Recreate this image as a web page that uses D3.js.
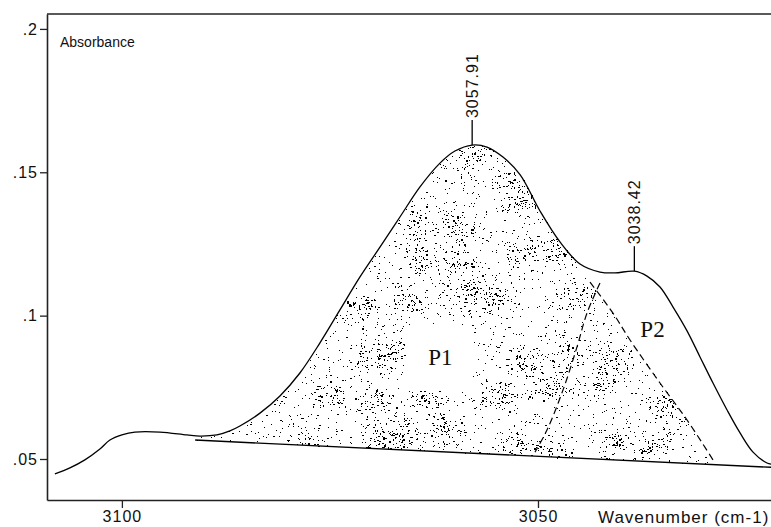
<!DOCTYPE html>
<html>
<head>
<meta charset="utf-8">
<script src="https://cdn.jsdelivr.net/npm/d3@7/dist/d3.min.js"></script>
<style>
body { margin: 0; background: #fff; }
svg { display: block; }
text { font-family: "Liberation Sans", Arial, sans-serif; fill: #111; }
</style>
</head>
<body>
<svg width="771" height="527"></svg>
<script>
// spectrum
var wavenumbers = [3108.05, 3106.25, 3104.45, 3102.64, 3101.44, 3100.00, 3098.44, 3095.43, 3092.19,
    3090.63, 3088.58, 3087.02, 3085.82, 3083.41, 3081.01, 3078.61, 3076.20, 3073.80, 3071.39,
    3068.99, 3066.59, 3064.18, 3061.78, 3059.98, 3057.91, 3056.13, 3054.21, 3052.16, 3049.76,
    3047.36, 3044.95, 3042.55, 3040.75, 3038.42, 3036.90, 3035.34, 3033.77, 3032.09, 3030.53,
    3028.97, 3027.28, 3025.72, 3024.16, 3022.48, 3021.90];
var absorbance = [0.0448, 0.0469, 0.0497, 0.0535, 0.0566, 0.0584, 0.0594, 0.0594, 0.0584,
    0.0580, 0.0584, 0.0598, 0.0615, 0.0660, 0.0720, 0.0800, 0.0905, 0.1020, 0.1135,
    0.1239, 0.1344, 0.1449, 0.1532, 0.1574, 0.1595, 0.1588, 0.1553, 0.1492, 0.1365,
    0.1257, 0.1180, 0.1152, 0.1149, 0.1155, 0.1138, 0.1100, 0.1030, 0.0947, 0.0856,
    0.0765, 0.0671, 0.0591, 0.0524, 0.0486, 0.0482];

// straight baseline under the bands
var baseWn = [3091.2, 3021.9];
var baseAbs = [0.0566, 0.0471];

// dashed flank of band P1 (right side)
var p1Wn = [3042.55, 3044.11, 3045.31, 3046.99, 3048.92, 3050.36];
var p1Abs = [0.1114, 0.1009, 0.0891, 0.0741, 0.0601, 0.0524];

// dashed flank of band P2 (left side)
var p2Wn = [3043.75, 3040.99, 3038.94, 3035.34, 3032.09, 3028.97];
var p2Abs = [0.1117, 0.1009, 0.0915, 0.0765, 0.0636, 0.0497];

var peakWn = [3057.91, 3038.42];
var peakAbs = [0.1595, 0.1155];
var peakLabels = ["3057.91", "3038.42"];

var areaLabels = ["P1", "P2"];
var areaWn = [3063.2, 3037.7];
var areaAbs = [0.0828, 0.0926];

var xTicks = [3100, 3050];
var yTicks = [0.05, 0.1, 0.15, 0.2];
var yTickLabels = [".05", ".1", ".15", ".2"];

var svg = d3.select("svg");
var plotL = 47, plotR = 771, plotT = 14, plotB = 500;

var x = d3.scaleLinear().domain([3109.0, 3022.0]).range([plotL, plotR]);
var y = d3.scaleLinear().domain([0.0357, 0.2052]).range([plotB, plotT]);

var spectrum = wavenumbers.map(function(d, i) { return [d, absorbance[i]]; });
function px(d) { return x(d[0]); }
function py(d) { return y(d[1]); }

function baseAt(wn) {
    var t = (wn - baseWn[0]) / (baseWn[1] - baseWn[0]);
    return baseAbs[0] + t * (baseAbs[1] - baseAbs[0]);
}

// stippled area: under spectrum, left of the P2 flank
var poly = spectrum.filter(function(d) { return d[0] <= baseWn[0] && d[0] >= p2Wn[0]; });
p2Wn.forEach(function(w, i) { poly.push([w, p2Abs[i]]); });
poly.push([p2Wn[p2Wn.length - 1], baseAt(p2Wn[p2Wn.length - 1])]);
poly.push([baseWn[0], baseAbs[0]]);
var polyPx = poly.map(function(d) { return [x(d[0]), y(d[1])]; });

// blank patch behind the P1 label
var lx = x(areaWn[0]), ly = y(areaAbs[0]);
function inside(p) {
    if (p[0] > lx - 24 && p[0] < lx + 44 && p[1] > ly - 40 && p[1] < ly + 26) return false;
    return d3.polygonContains(polyPx, p);
}

// seeded texture so every run looks the same
var seed = 9871;
function rnd() {
    seed = (seed * 16807) % 2147483647;
    return seed / 2147483647;
}
function gauss() { return (rnd() + rnd() + rnd() - 1.5) * 2; }

var dots = [];
var bx0 = d3.min(polyPx, function(p) { return p[0]; }), bx1 = d3.max(polyPx, function(p) { return p[0]; });
var by0 = d3.min(polyPx, function(p) { return p[1]; }), by1 = d3.max(polyPx, function(p) { return p[1]; });
for (var a = 0; a < 3300; a++) {
    var qx = bx0 + rnd() * (bx1 - bx0), qy = by0 + rnd() * (by1 - by0);
    if (inside([qx, qy])) dots.push([qx, qy, rnd() < 0.12 ? 2 : 1, 1]);
}
for (var cxg = bx0 + 15; cxg < bx1; cxg += 50) {
    for (var cyg = by0 + 20; cyg < by1; cyg += 46) {
        var cx = cxg + (rnd() - 0.5) * 34, cy = cyg + (rnd() - 0.5) * 30;
        if (!inside([cx, cy])) continue;
        for (var k = 0; k < 55; k++) {
            var rx = cx + gauss() * 10, ry = cy + gauss() * 8;
            if (inside([rx, ry])) dots.push([rx, ry, rnd() < 0.3 ? 2 : 1, rnd() < 0.15 ? 2 : 1]);
        }
    }
}

svg.append("g").selectAll("rect")
    .data(dots)
    .enter().append("rect")
    .attr("x", function(d) { return Math.round(d[0]); })
    .attr("y", function(d) { return Math.round(d[1]); })
    .attr("width", function(d) { return d[2]; })
    .attr("height", function(d) { return d[3]; })
    .attr("fill", "#000");

// baseline
svg.append("path")
    .attr("d", d3.line().x(px).y(py)(baseWn.map(function(d, i) { return [d, baseAbs[i]]; })))
    .attr("fill", "none").attr("stroke", "#000").attr("stroke-width", 1.4);

// dashed band flanks
[[p1Wn, p1Abs], [p2Wn, p2Abs]].forEach(function(s) {
    svg.append("path")
        .attr("d", d3.line().x(px).y(py).curve(d3.curveCatmullRom)(s[0].map(function(d, i) { return [d, s[1][i]]; })))
        .attr("fill", "none").attr("stroke", "#000").attr("stroke-width", 1.2)
        .attr("stroke-dasharray", "7,4");
});

// spectrum
svg.append("path")
    .attr("d", d3.line().x(px).y(py).curve(d3.curveCatmullRom)(spectrum))
    .attr("fill", "none").attr("stroke", "#000").attr("stroke-width", 1.3);

// peak markers
peakWn.forEach(function(w, i) {
    var mx = x(w), my = y(peakAbs[i]);
    svg.append("line")
        .attr("x1", mx).attr("x2", mx).attr("y1", my).attr("y2", my - 25)
        .attr("stroke", "#000").attr("stroke-width", 1.3);
    svg.append("text")
        .attr("transform", "translate(" + (mx + 6) + "," + (my - 27) + ") rotate(-90)")
        .attr("font-size", 16).attr("letter-spacing", 1)
        .text(peakLabels[i]);
});

// band labels
areaLabels.forEach(function(t, i) {
    svg.append("text")
        .attr("x", x(areaWn[i])).attr("y", y(areaAbs[i]))
        .style("font-family", "'Liberation Serif', serif")
        .attr("font-size", 23)
        .text(t);
});

// axes
var yAxis = d3.axisLeft(y).tickValues(yTicks).tickSize(7).tickSizeOuter(0)
    .tickFormat(function(d, i) { return yTickLabels[i]; });
var gY = svg.append("g").attr("transform", "translate(" + plotL + ",0)").call(yAxis);
var xAxis = d3.axisBottom(x).tickValues(xTicks).tickSize(8).tickSizeOuter(0).tickFormat(d3.format("d"));
var gX = svg.append("g").attr("transform", "translate(0," + plotB + ")").call(xAxis);
[gY, gX].forEach(function(g) {
    g.select(".domain").attr("stroke", "#222").attr("stroke-width", 1.6);
    g.selectAll(".tick line").attr("stroke", "#222").attr("stroke-width", 1.3);
    g.selectAll(".tick text")
        .style("font-family", "'Liberation Sans', Arial, sans-serif")
        .attr("font-size", 16).attr("letter-spacing", 1).attr("fill", "#111");
});
gY.selectAll(".tick text").attr("x", -9);
gX.selectAll(".tick text").attr("y", 11);

// top frame line
svg.append("line")
    .attr("x1", plotL).attr("x2", plotR).attr("y1", plotT).attr("y2", plotT)
    .attr("stroke", "#222").attr("stroke-width", 1.6);

svg.append("text")
    .attr("x", 60).attr("y", 47)
    .attr("font-size", 14)
    .text("Absorbance");

svg.append("text")
    .attr("x", 598).attr("y", 523)
    .attr("font-size", 17).attr("letter-spacing", 1)
    .text("Wavenumber (cm-1)");
</script>
</body>
</html>
